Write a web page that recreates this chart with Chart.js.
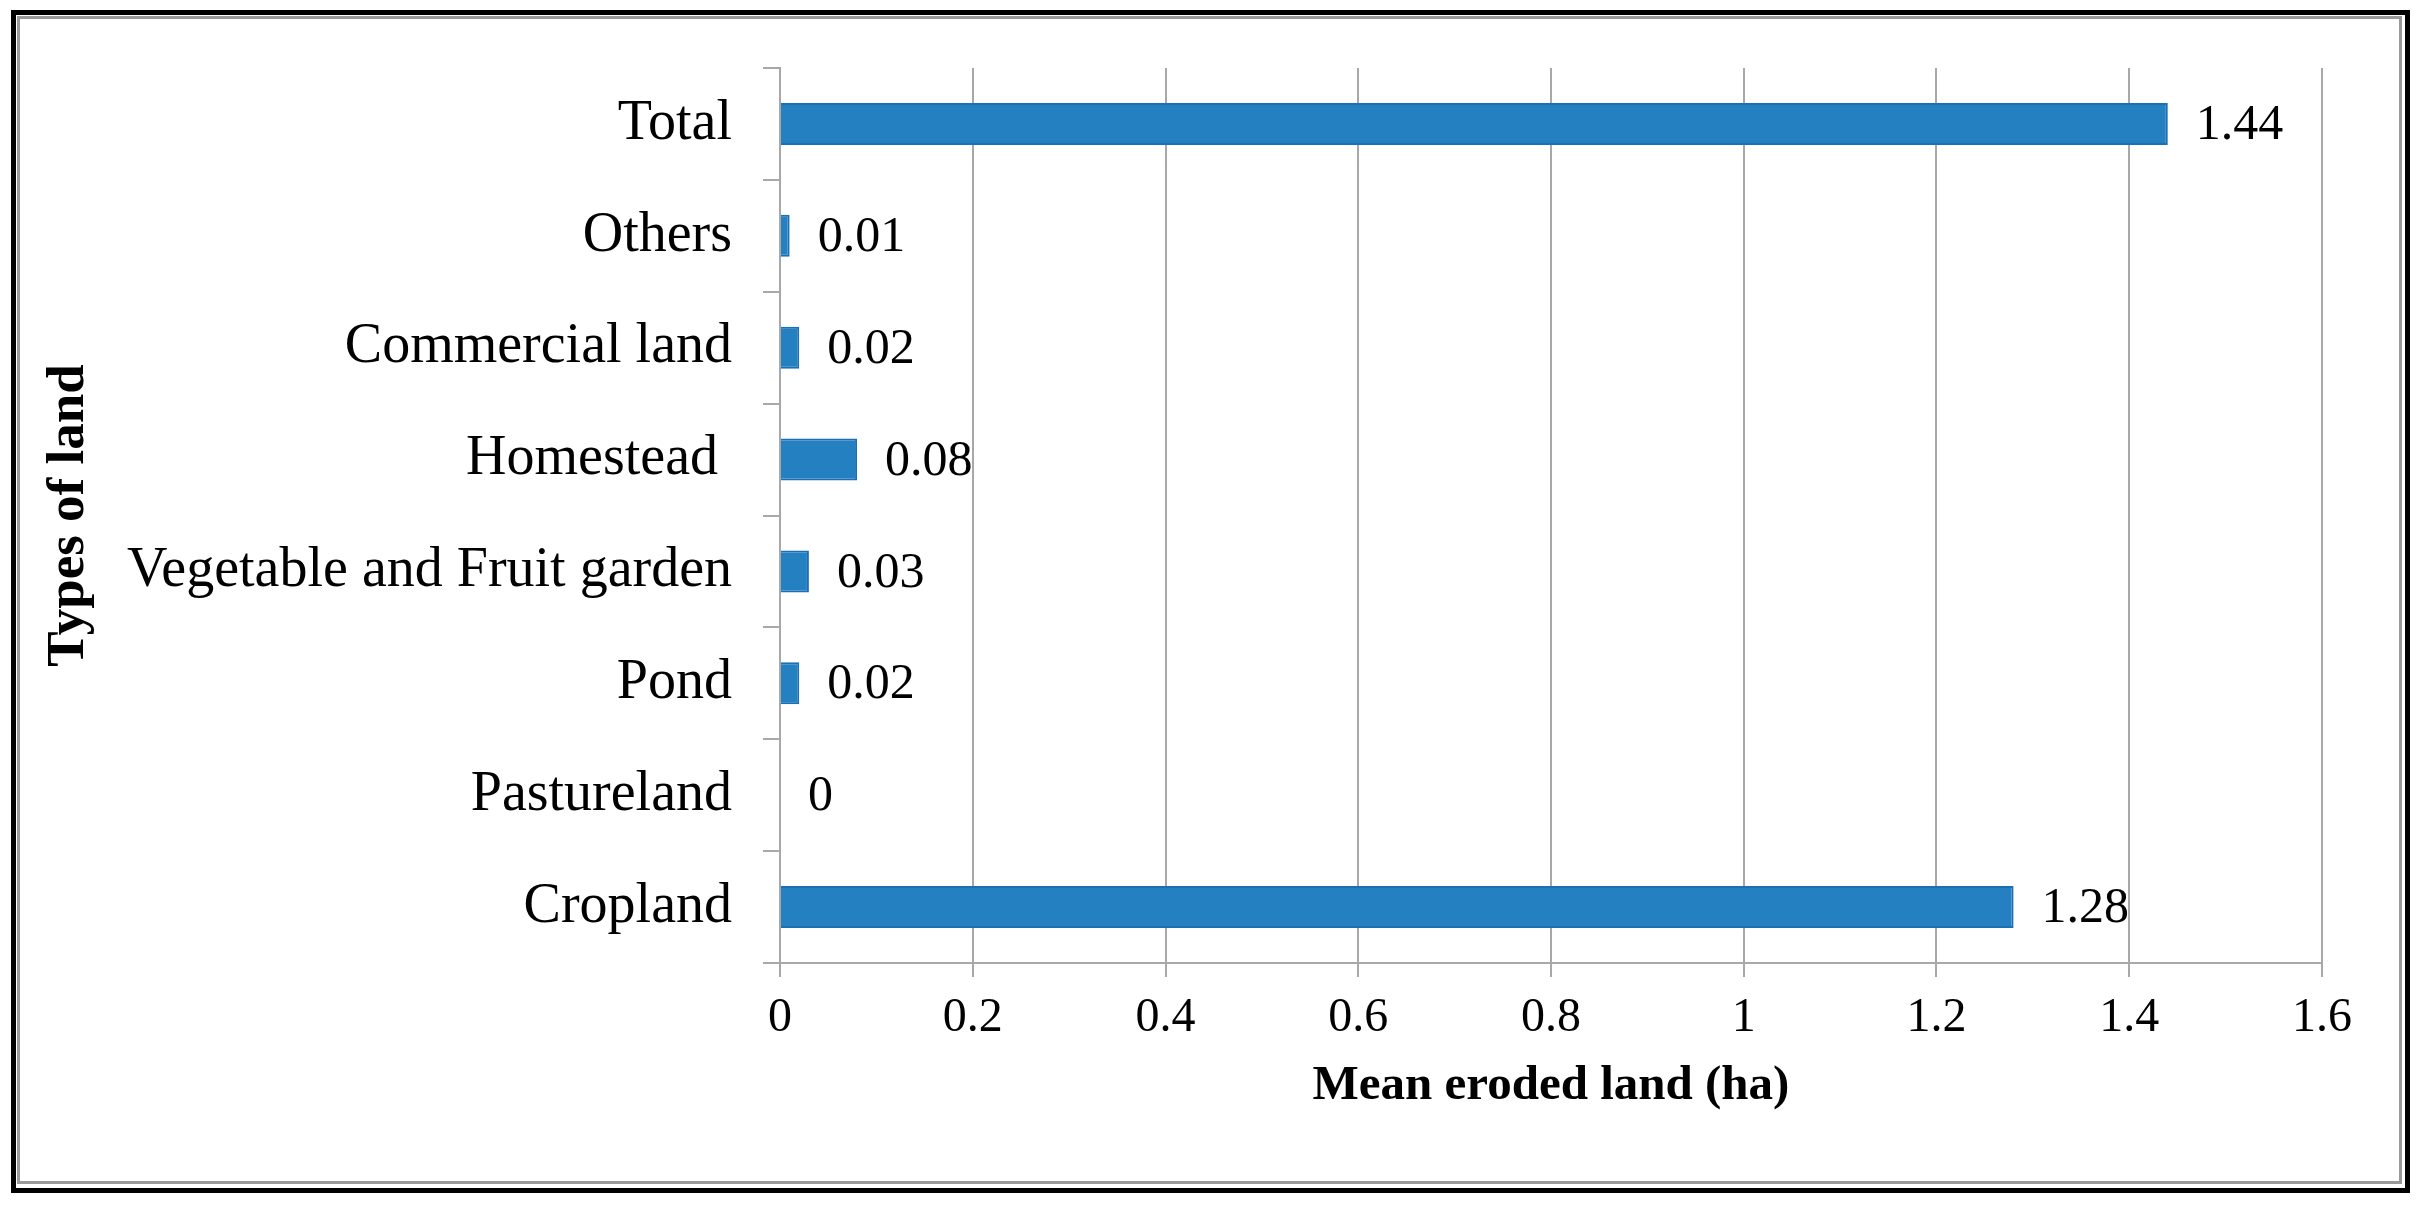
<!DOCTYPE html>
<html>
<head>
<meta charset="utf-8">
<script src="https://cdn.jsdelivr.net/npm/chart.js@4.4.1/dist/chart.umd.min.js"></script>
<style>
  html, body { margin: 0; padding: 0; background: #fff; }
  #wrap { position: relative; width: 2424px; height: 1206px; overflow: hidden; }
  #frame { position: absolute; left: 11px; top: 10px; width: 2399px; height: 1183px;
           border: 5px solid #000; box-sizing: border-box; }
  #inner { position: absolute; left: 1px; top: 1px; right: 3px; bottom: 4px;
           border: 3px solid #9a9a9a; }
  canvas { position: absolute; left: 0; top: 0; }
</style>
</head>
<body>
<div id="wrap">
  <div id="frame"><div id="inner"></div></div>
  <canvas id="chart" width="2424" height="1206"></canvas>
</div>
<script>
// categories, top to bottom as in the figure
const landTypes = ['Total', 'Others', 'Commercial land', 'Homestead ', 'Vegetable and Fruit garden', 'Pond', 'Pastureland', 'Cropland'];
const meanEroded = [1.44, 0.01, 0.02, 0.08, 0.03, 0.02, 0, 1.28];
const xTickLabels = ['0', '0.2', '0.4', '0.6', '0.8', '1', '1.2', '1.4', '1.6'];

const serif = '"Liberation Serif", "DejaVu Serif", serif';
const gridGray = '#a8a8a8';

// numbers at the end of each bar
const valueLabels = {
  id: 'valueLabels',
  afterDatasetsDraw(chart) {
    const ctx = chart.ctx;
    const meta = chart.getDatasetMeta(0);
    ctx.save();
    ctx.font = '50px ' + serif;
    ctx.fillStyle = '#000';
    ctx.textAlign = 'left';
    ctx.textBaseline = 'middle';
    meta.data.forEach((bar, i) => {
      ctx.fillText(String(meanEroded[i]), bar.x + 28, bar.y + 2);
    });
    ctx.restore();
  }
};

new Chart(document.getElementById('chart'), {
  type: 'bar',
  data: {
    labels: landTypes,
    datasets: [{
      data: meanEroded,
      backgroundColor: '#2580c2',
      borderColor: '#1b6fb4',
      borderWidth: 2,
      barPercentage: 0.375,
      categoryPercentage: 1.0
    }]
  },
  options: {
    indexAxis: 'y',
    responsive: false,
    animation: false,
    devicePixelRatio: 1,
    layout: { padding: { top: 68, right: 102, left: 0, bottom: 0 } },
    plugins: {
      legend: { display: false },
      tooltip: { enabled: false }
    },
    scales: {
      x: {
        min: 0,
        max: 1.6,
        afterFit(scale) { scale.height = 243; },
        ticks: {
          stepSize: 0.2,
          color: '#000',
          font: { family: serif, size: 48 },
          padding: 13,
          maxRotation: 0,
          callback: (v, i) => xTickLabels[i]
        },
        grid: { color: gridGray, lineWidth: 2, tickLength: 14 },
        border: { display: true, color: gridGray, width: 2 },
        title: {
          display: true,
          text: 'Mean eroded land (ha)',
          color: '#000',
          font: { family: serif, size: 49, weight: 'bold' },
          padding: { top: 0, bottom: 90 }
        }
      },
      y: {
        afterFit(scale) { scale.width = 780; },
        ticks: {
          color: '#000',
          font: { family: serif, size: 56 },
          padding: 31
        },
        grid: { color: gridGray, lineWidth: 2, tickLength: 17, drawOnChartArea: false, offset: true },
        border: { display: true, color: gridGray, width: 2 },
        title: {
          display: true,
          text: 'Types of land',
          color: '#000',
          font: { family: serif, size: 53, weight: 'bold' },
          padding: { top: 38, bottom: 0 }
        }
      }
    }
  },
  plugins: [valueLabels]
});
</script>
</body>
</html>
